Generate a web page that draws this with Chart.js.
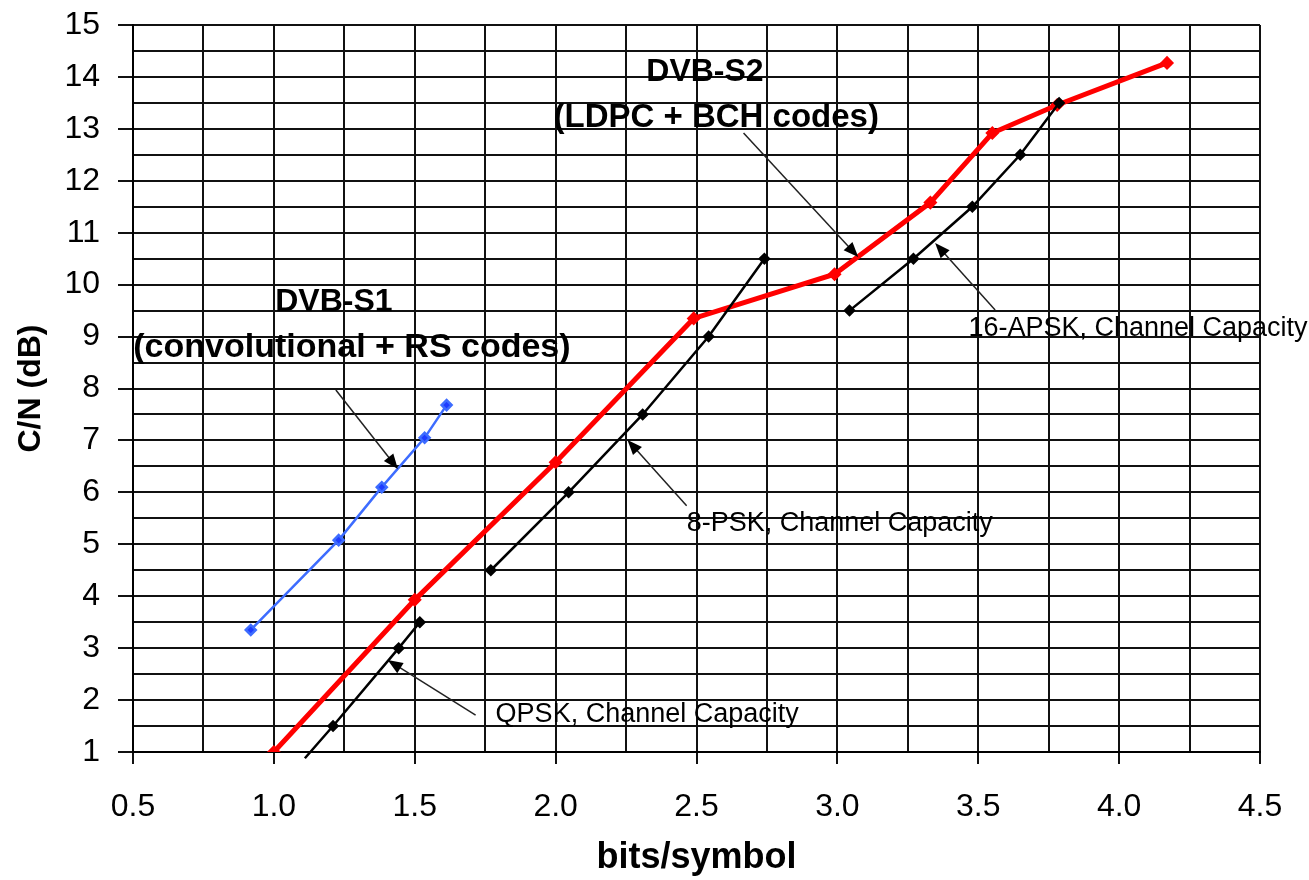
<!DOCTYPE html>
<html>
<head>
<meta charset="utf-8">
<script src="https://cdn.jsdelivr.net/npm/chart.js@4.4.0/dist/chart.umd.min.js"></script>
<style>
    html, body { margin: 0; padding: 0; background: #fff; }
    #wrap { width: 1309px; height: 880px; }
</style>
</head>
<body>
<div id="wrap"><canvas id="chart" width="1309" height="880"></canvas></div>
<script>
// bits/symbol vs C/N (dB)
const qpskX = [1.11, 1.21, 1.443, 1.518];
const qpskY = [0.88, 1.5, 3.0, 3.5];
const psk8X = [1.77, 2.046, 2.309, 2.543, 2.741];
const psk8Y = [4.5, 6.0, 7.5, 9.0, 10.5];
const apsk16X = [3.043, 3.27, 3.479, 3.649, 3.787];
const apsk16Y = [9.5, 10.5, 11.5, 12.5, 13.5];
const dvbs2X = [1.0, 1.5, 2.0, 2.49, 2.99, 3.33, 3.55, 3.78, 4.17];
const dvbs2Y = [1.0, 3.93, 6.58, 9.35, 10.2, 11.58, 12.92, 13.46, 14.27];
const dvbs1X = [0.918, 1.23, 1.383, 1.535, 1.613];
const dvbs1Y = [3.35, 5.08, 6.1, 7.05, 7.68];

const FONT = "'Liberation Sans', Arial, sans-serif";

// text notes and arrows, placed in data units
const notes = [
    { text: "DVB-S2", x: 2.53, y: 14.09, bold: true, size: 32, align: "center" },
    { text: "(LDPC + BCH codes)", x: 2.57, y: 13.21, bold: true, size: 33, align: "center" },
    { text: "DVB-S1", x: 1.213, y: 9.67, bold: true, size: 32, align: "center" },
    { text: "(convolutional + RS codes)", x: 1.277, y: 8.78, bold: true, size: 34, align: "center" },
    { text: "QPSK, Channel Capacity", x: 1.787, y: 1.73, bold: false, size: 27, align: "left" },
    { text: "8-PSK, Channel Capacity", x: 2.465, y: 5.39, bold: false, size: 27, align: "left" },
    { text: "16-APSK, Channel Capacity", x: 3.465, y: 9.16, bold: false, size: 27, align: "left" }
];
const arrows = [
    { from: [2.667, 12.92], to: [3.074, 10.53] },
    { from: [1.22, 7.97], to: [1.44, 6.45] },
    { from: [1.716, 1.71], to: [1.404, 2.77] },
    { from: [2.465, 5.74], to: [2.255, 7.01] },
    { from: [3.56, 9.51], to: [3.347, 10.80] }
];

function toPoints(xs, ys) {
    return xs.map((x, i) => ({ x: x, y: ys[i] }));
}

function isMultiple(v, step) {
    return Math.abs(v / step - Math.round(v / step)) < 1e-6;
}

const notesPlugin = {
    id: "notes",
    afterDatasetsDraw(chart) {
        const ctx = chart.ctx;
        const xs = chart.scales.x;
        const ys = chart.scales.y;
        ctx.save();
        arrows.forEach(a => {
            const x1 = xs.getPixelForValue(a.from[0]);
            const y1 = ys.getPixelForValue(a.from[1]);
            const x2 = xs.getPixelForValue(a.to[0]);
            const y2 = ys.getPixelForValue(a.to[1]);
            const ang = Math.atan2(y2 - y1, x2 - x1);
            const len = 15, half = 6;
            ctx.strokeStyle = "#222";
            ctx.lineWidth = 1.5;
            ctx.beginPath();
            ctx.moveTo(x1, y1);
            ctx.lineTo(x2 - Math.cos(ang) * len * 0.8, y2 - Math.sin(ang) * len * 0.8);
            ctx.stroke();
            ctx.fillStyle = "#000";
            ctx.beginPath();
            ctx.moveTo(x2, y2);
            ctx.lineTo(x2 - Math.cos(ang) * len - Math.sin(ang) * half, y2 - Math.sin(ang) * len + Math.cos(ang) * half);
            ctx.lineTo(x2 - Math.cos(ang) * len + Math.sin(ang) * half, y2 - Math.sin(ang) * len - Math.cos(ang) * half);
            ctx.closePath();
            ctx.fill();
        });
        notes.forEach(n => {
            ctx.font = (n.bold ? "bold " : "") + n.size + "px " + FONT;
            ctx.fillStyle = "#000";
            ctx.textAlign = n.align;
            ctx.textBaseline = "middle";
            ctx.fillText(n.text, xs.getPixelForValue(n.x), ys.getPixelForValue(n.y));
        });
        ctx.restore();
    }
};

const blackLine = {
    borderColor: "#000",
    backgroundColor: "#000",
    borderWidth: 2.5,
    pointStyle: "rectRot",
    pointRadius: 4.5,
    showLine: true,
    order: 0
};

new Chart(document.getElementById("chart").getContext("2d"), {
    type: "scatter",
    data: {
        datasets: [
            Object.assign({}, blackLine, {
                label: "QPSK, Channel Capacity",
                data: toPoints(qpskX, qpskY),
                pointRadius: ctx => ctx.dataIndex === 0 ? 0 : 4.5,
                clip: { left: 0, top: 0, right: 0, bottom: 10 }
            }),
            Object.assign({}, blackLine, {
                label: "8-PSK, Channel Capacity",
                data: toPoints(psk8X, psk8Y)
            }),
            Object.assign({}, blackLine, {
                label: "16-APSK, Channel Capacity",
                data: toPoints(apsk16X, apsk16Y)
            }),
            {
                label: "DVB-S2",
                data: toPoints(dvbs2X, dvbs2Y),
                borderColor: "#ff0000",
                backgroundColor: "#ff0000",
                borderWidth: 5,
                pointStyle: "rectRot",
                pointRadius: 3.5,
                showLine: true,
                order: 1
            },
            {
                label: "DVB-S1",
                data: toPoints(dvbs1X, dvbs1Y),
                borderColor: "#3d6cff",
                backgroundColor: "#1f3cff",
                borderWidth: 2.5,
                pointStyle: "rectRot",
                pointRadius: 5,
                showLine: true,
                order: 1
            }
        ]
    },
    options: {
        responsive: false,
        animation: false,
        layout: { padding: { left: 0, top: 25, right: 49, bottom: 0 } },
        plugins: {
            legend: { display: false },
            tooltip: { enabled: false }
        },
        scales: {
            x: {
                type: "linear",
                min: 0.5,
                max: 4.5,
                afterFit: s => { s.height = 128; s.paddingLeft = 0; s.paddingRight = 0; },
                border: { display: true, color: "#000", width: 2 },
                grid: {
                    color: "#111",
                    lineWidth: 2,
                    tickLength: 12,
                    tickWidth: 2,
                    tickColor: ctx => isMultiple(ctx.tick.value, 0.5) ? "#111" : "rgba(0,0,0,0)"
                },
                ticks: {
                    stepSize: 0.25,
                    autoSkip: false,
                    maxRotation: 0,
                    padding: 24,
                    color: "#000",
                    font: { family: FONT, size: 32 },
                    callback: v => isMultiple(v, 0.5) ? v.toFixed(1) : ""
                },
                title: {
                    display: true,
                    text: "bits/symbol",
                    color: "#000",
                    font: { family: FONT, size: 36, weight: "bold" },
                    padding: { top: 0, bottom: 0 }
                }
            },
            y: {
                type: "linear",
                min: 1,
                max: 15,
                afterFit: s => { s.width = 133; s.paddingTop = 0; s.paddingBottom = 0; },
                border: { display: true, color: "#000", width: 2 },
                grid: {
                    color: "#111",
                    lineWidth: 2,
                    tickLength: 15,
                    tickWidth: 2,
                    tickColor: ctx => isMultiple(ctx.tick.value, 1) ? "#111" : "rgba(0,0,0,0)"
                },
                ticks: {
                    stepSize: 0.5,
                    autoSkip: false,
                    padding: 18,
                    color: "#000",
                    font: { family: FONT, size: 32 },
                    callback: v => isMultiple(v, 1) ? String(v) : ""
                },
                title: {
                    display: true,
                    text: "C/N (dB)",
                    color: "#000",
                    font: { family: FONT, size: 32, weight: "bold" },
                    padding: { top: 12, bottom: 0 }
                }
            }
        }
    },
    plugins: [notesPlugin]
});
</script>
</body>
</html>
